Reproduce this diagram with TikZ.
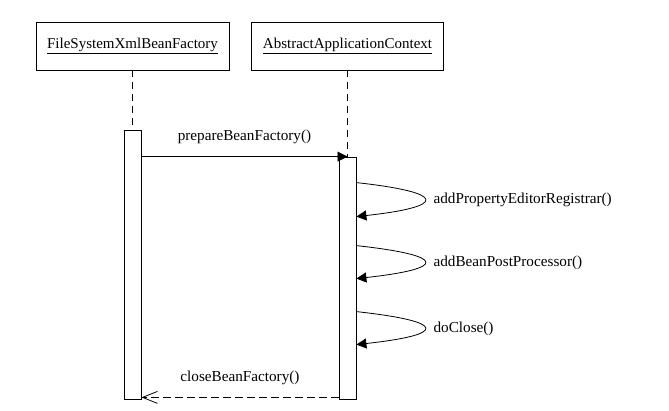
\documentclass[tikz,border=0pt]{standalone}
\usepackage{fontspec}
\setmainfont{Liberation Serif}
\usetikzlibrary{arrows.meta}

\begin{document}
\begin{tikzpicture}[x=1pt,y=-1pt]
        % Styles for the objects, bars and messages
        \tikzset{
            object/.style={
                draw,
                rectangle,
                line width=0.8pt,
                minimum width=193pt,
                minimum height=48pt,
                font=\fontsize{15}{18}\selectfont
            },
            activation/.style={
                draw,
                rectangle,
                line width=0.8pt,
                minimum width=17pt,
                inner sep=0pt,
                fill=white
            },
            lifeline/.style={
                line width=0.8pt,
                dash pattern=on 7pt off 5pt
            },
            call/.style={
                line width=0.8pt,
                -{Triangle[length=10pt,width=10pt]}
            },
            reply/.style={
                line width=0.8pt,
                dash pattern=on 8pt off 4pt,
                -{Straight Barb[length=15pt,width=12pt]}
            },
            msg/.style={
                inner sep=0pt,
                font=\fontsize{15.2}{18}\selectfont
            }
        }
        \useasboundingbox (0,0) rectangle (669,411);
        % Width of the self call loops
        \def\loopw{91}
        % Objects at the top
        \node[object] (factory) at (132.5,46) {\underline{FileSystemXmlBeanFactory}};
        \node[object, minimum width=192pt] (context) at (347.5,46) {\underline{AbstractApplicationContext}};
        % Activation bars
        \node[activation, minimum height=269pt] (actF) at (132.5,264.5) {};
        \node[activation, minimum height=242pt] (actC) at (347.5,278) {};
        % Lifelines
        \draw[lifeline] (factory.south) -- (actF.north);
        \draw[lifeline] (context.south) -- (actC.north);
        % Call from the factory to the context
        \draw[call] (actF.east |- actC.north) -- node[msg, above=12pt] (prepare) {prepareBeanFactory()} (actC.north);
        % Self calls on the context
        \foreach \out/\back/\name [count=\i] in {-26pt/-60pt/addPropertyEditorRegistrar(), -89pt/-122pt/addBeanPostProcessor(), -155pt/-188pt/doClose()} {
            \coordinate (out\i) at ([yshift=\out]actC.north east);
            \coordinate (in\i) at ([yshift=\back]actC.north east);
            \draw[call] (out\i) .. controls +(\loopw,10) and +(\loopw,-10) .. (in\i);
            \node[msg, anchor=west] (self\i) at ([xshift=77pt, yshift=-17pt]out\i) {\name};
        }
        % Return to the factory
        \draw[reply] ([yshift=2pt]actC.south west) -- node[msg, above=12pt] (close) {closeBeanFactory()} ([yshift=2pt]actF.south east);
    \end{tikzpicture}
\end{document}
